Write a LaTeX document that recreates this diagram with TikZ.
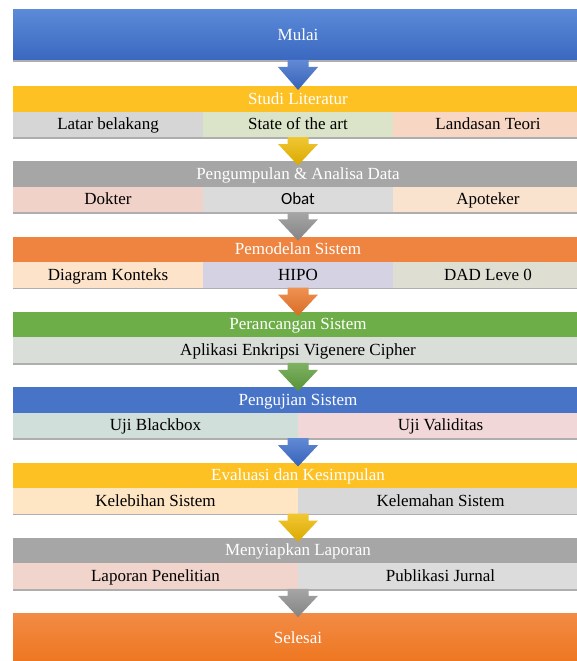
\documentclass[tikz,border=0pt]{standalone}
\usepackage{fontspec}
\setmainfont{Liberation Serif}
\newfontfamily\calfont{Carlito}
\usetikzlibrary{calc,shadows}
\definecolor{mulaiTop}{HTML}{5B8AD8}
\definecolor{mulaiBot}{HTML}{3A68C0}
\definecolor{selTop}{HTML}{F28B45}
\definecolor{selBot}{HTML}{EE761F}
\definecolor{goldH}{HTML}{FDC124}
\definecolor{greyH}{HTML}{A6A6A6}
\definecolor{orangeH}{HTML}{EF8441}
\definecolor{greenH}{HTML}{6DAE48}
\definecolor{blueH}{HTML}{4874C8}
\definecolor{cLatar}{HTML}{D6D6D6}
\definecolor{cState}{HTML}{DBE4C9}
\definecolor{cLandasan}{HTML}{F7D7C4}
\definecolor{cDokter}{HTML}{F0D2C9}
\definecolor{cObat}{HTML}{DBDBDB}
\definecolor{cApoteker}{HTML}{FAE3CE}
\definecolor{cDiagram}{HTML}{FCE3CA}
\definecolor{cHipo}{HTML}{D4D2E3}
\definecolor{cDad}{HTML}{DEDFD2}
\definecolor{cAplikasi}{HTML}{D9DED9}
\definecolor{cBlackbox}{HTML}{D0DFD9}
\definecolor{cValiditas}{HTML}{F1D7D7}
\definecolor{cKelebihan}{HTML}{FEE5C4}
\definecolor{cKelemahan}{HTML}{D8D8D8}
\definecolor{cLaporan}{HTML}{F1D4CC}
\definecolor{cPublikasi}{HTML}{DCDCDC}
\definecolor{aBlue}{HTML}{3A6BC9}
\definecolor{aGold}{HTML}{EDB800}
\definecolor{aGrey}{HTML}{8F8F8F}
\definecolor{aOrange}{HTML}{EB7628}
\definecolor{aGreen}{HTML}{5E9E3C}
\newcommand\flowarrow[3]{%
  \shade[top color=#3!80!white, bottom color=#3!92!black]
    ($(#2.north |- #1.south)+(-10.5,0)$) -- ++(21,0) -- ++(0,7) -- ++(9.5,0)
    -- ($(#2.north)+(0,4)$)
    -- ($(#2.north |- #1.south)+(-20,7)$) -- ++(9.5,0) -- cycle;}
\begin{document}
\begin{tikzpicture}[x=1pt,y=-1pt,
  txt/.style={font=\fontsize{17}{20}\selectfont, text height=13pt, text depth=2.5pt,
    inner sep=0pt, outer sep=0pt, anchor=north west},
  hdr/.style={txt, minimum width=570pt, minimum height=25.5pt, text=white},
  cell/.style={txt, minimum height=25.5pt, text=black,
    drop shadow={shadow xshift=0pt, shadow yshift=-1.8pt, opacity=.45, fill=black!70}},
  cthree/.style={cell, minimum width=190pt},
  ctwo/.style={cell, minimum width=285pt},
  cone/.style={cell, minimum width=570pt},
  term/.style={txt, minimum width=570pt, minimum height=50pt, text=white,
    drop shadow={shadow xshift=0pt, shadow yshift=-1.8pt, opacity=.45, fill=black!70}}]
\useasboundingbox (0,0) rectangle (576,661);
\fill[white] (0,0) rectangle (576,661);

\node[term, top color=mulaiTop, bottom color=mulaiBot] (mulai) at (13,10) {Mulai};

\node[hdr, fill=goldH] (h0) at (13,86) {Studi Literatur};
\node[cthree, fill=cLatar] (s0a) at (13,111.5) {Latar belakang};
\node[cthree, fill=cState] (s0b) at (203,111.5) {State of the art};
\node[cthree, fill=cLandasan] (s0c) at (393,111.5) {Landasan Teori};

\node[hdr, fill=greyH] (h1) at (13,161.3) {Pengumpulan \& Analisa Data};
\node[cthree, fill=cDokter] (s1a) at (13,186.8) {Dokter};
\node[cthree, fill=cObat, font=\calfont\fontsize{17}{20}\selectfont] (s1b) at (203,186.8) {Obat};
\node[cthree, fill=cApoteker] (s1c) at (393,186.8) {Apoteker};

\node[hdr, fill=orangeH] (h2) at (13,236.6) {Pemodelan Sistem};
\node[cthree, fill=cDiagram] (s2a) at (13,262.1) {Diagram Konteks};
\node[cthree, fill=cHipo] (s2b) at (203,262.1) {HIPO};
\node[cthree, fill=cDad] (s2c) at (393,262.1) {DAD Leve 0};

\node[hdr, fill=greenH] (h3) at (13,311.9) {Perancangan Sistem};
\node[cone, fill=cAplikasi] (s3a) at (13,337.4) {Aplikasi Enkripsi Vigenere Cipher};

\node[hdr, fill=blueH] (h4) at (13,387.2) {Pengujian Sistem};
\node[ctwo, fill=cBlackbox] (s4a) at (13,412.7) {Uji Blackbox};
\node[ctwo, fill=cValiditas] (s4b) at (298,412.7) {Uji Validitas};

\node[hdr, fill=goldH] (h5) at (13,462.5) {Evaluasi dan Kesimpulan};
\node[ctwo, fill=cKelebihan] (s5a) at (13,488) {Kelebihan Sistem};
\node[ctwo, fill=cKelemahan] (s5b) at (298,488) {Kelemahan Sistem};

\node[hdr, fill=greyH] (h6) at (13,537.8) {Menyiapkan Laporan};
\node[ctwo, fill=cLaporan] (s6a) at (13,563.3) {Laporan Penelitian};
\node[ctwo, fill=cPublikasi] (s6b) at (298,563.3) {Publikasi Jurnal};

\node[term, top color=selTop, bottom color=selBot] (selesai) at (13,613.1) {Selesai};

\flowarrow{mulai}{h0}{aBlue}
\flowarrow{s0b}{h1}{aGold}
\flowarrow{s1b}{h2}{aGrey}
\flowarrow{s2b}{h3}{aOrange}
\flowarrow{s3a}{h4}{aGreen}
\flowarrow{s4a}{h5}{aBlue}
\flowarrow{s5a}{h6}{aGold}
\flowarrow{s6a}{selesai}{aGrey}
\end{tikzpicture}
\end{document}
